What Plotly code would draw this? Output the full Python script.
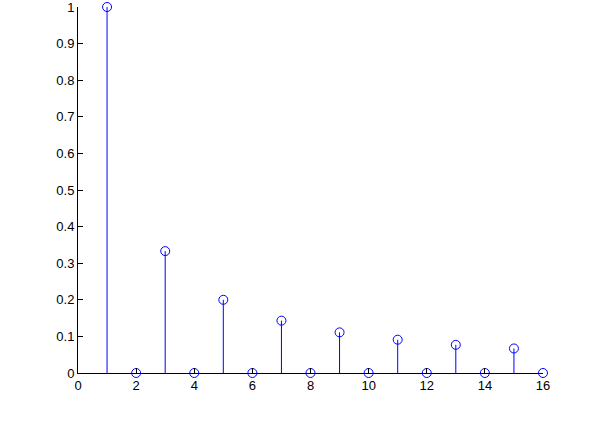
import plotly.graph_objects as go

n = list(range(1, 17))
values = [1.0, 0, 0.333, 0, 0.2, 0, 0.143, 0, 0.111, 0, 0.091, 0, 0.077, 0, 0.067, 0]

x_ticks = [0, 2, 4, 6, 8, 10, 12, 14, 16]
y_ticks = [0, 0.1, 0.2, 0.3, 0.4, 0.5, 0.6, 0.7, 0.8, 0.9, 1]

# stem lines: baseline to value, separated by None
stem_x, stem_y = [], []
for xi, yi in zip(n, values):
    stem_x += [xi, xi, None]
    stem_y += [0, yi, None]

fig = go.Figure()
fig.add_trace(go.Scatter(
    x=stem_x, y=stem_y, mode="lines",
    line=dict(color="rgb(0,0,255)", width=1),
    hoverinfo="skip", showlegend=False, cliponaxis=False
))
fig.add_trace(go.Scatter(
    x=n, y=values, mode="markers",
    marker=dict(symbol="circle-open", size=9, color="rgb(0,0,255)", line=dict(width=1)),
    showlegend=False, cliponaxis=False
))

axis_style = dict(
    showgrid=False, zeroline=False, showline=True, linecolor="black", linewidth=1,
    ticks="inside", ticklen=5, tickcolor="black", automargin=False,
    ticklabeloverflow="allow",
    tickfont=dict(family="Liberation Sans, Arial", size=13, color="black"),
)

fig.update_layout(
    width=600, height=423,
    margin=dict(l=78, r=57, t=7, b=50),
    plot_bgcolor="white", paper_bgcolor="white",
    xaxis=dict(range=[0, 16], tickvals=x_ticks, **axis_style),
    yaxis=dict(range=[0, 1], tickvals=y_ticks, ticktext=[str(v) for v in y_ticks], **axis_style),
)

# drop the default page margin so the figure sits at the window's corner
fig.write_html("out.html", config={"displayModeBar": False},
               post_script="document.body.style.margin='0';")
